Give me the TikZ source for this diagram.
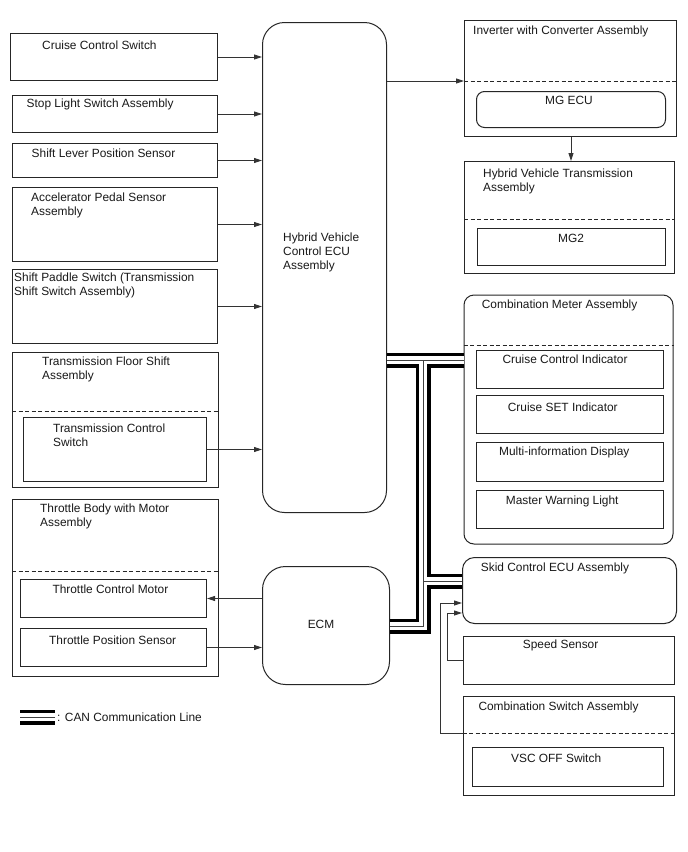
\documentclass[tikz,border=0pt]{standalone}
\usepackage{fontspec}
\setmainfont{Liberation Sans}
\usetikzlibrary{arrows.meta}
\begin{document}
\begin{tikzpicture}[x=1pt,y=-1pt,
  box/.style={draw=black!85, line width=1pt, inner sep=0pt, anchor=north west, fill=none},
  rbox/.style={box, rounded corners=#1},
  lbl/.style={anchor=base west, inner sep=0pt, align=left, text=black!90,
    font=\fontsize{11.9pt}{14pt}\selectfont},
  clbl/.style={lbl, anchor=base},
  arr/.style={draw=black!80, line width=0.9pt, -{Triangle[length=8pt,width=5pt]}},
  dsh/.style={draw=black!85, line width=1pt, dash pattern=on 4pt off 2.5pt},
  canA/.style={draw=black, line width=15pt, line join=miter},
  canB/.style={draw=white, line width=8pt, line join=miter},
  canC/.style={draw=black!75, line width=1pt, line join=miter},
]
\fill[white] (0,0) rectangle (688,852);
\useasboundingbox (0,0) rectangle (688,852);

% ---------- left column ----------
\node[box, minimum width=207pt, minimum height=47pt] (cruise) at (10,33) {};
\node[lbl] (cruiseT) at (42,49) {Cruise Control Switch};
\node[box, minimum width=205pt, minimum height=37pt] (stop) at (12,95) {};
\node[lbl] (stopT) at (26.5,107) {Stop Light Switch Assembly};
\node[box, minimum width=205pt, minimum height=34pt] (slever) at (12,143) {};
\node[lbl] (sleverT) at (31.5,157) {Shift Lever Position Sensor};
\node[box, minimum width=205pt, minimum height=74pt] (accel) at (12,187) {};
\node[lbl] (accelT) at (31,215) {Accelerator Pedal Sensor\\Assembly};
\node[box, minimum width=205pt, minimum height=74pt] (paddle) at (12,269) {};
\node[lbl] (paddleT) at (14,295.5) {Shift Paddle Switch (Transmission\\Shift Switch Assembly)};
\node[box, minimum width=206pt, minimum height=135pt] (tfs) at (12,352) {};
\node[lbl] (tfsT) at (42,379.3) {Transmission Floor Shift\\Assembly};
\draw[dsh] (tfs.west |- 0,411) -- (tfs.east |- 0,411);
\node[box, minimum width=183pt, minimum height=64pt] (tcs) at (23,417) {};
\node[lbl] (tcsT) at (53,446) {Transmission Control\\Switch};
\node[box, minimum width=205.5pt, minimum height=177pt] (tb) at (12,498.5) {};
\node[lbl] (tbT) at (40,526.6) {Throttle Body with Motor\\Assembly};
\draw[dsh] (tb.west |- 0,571) -- (tb.east |- 0,571);
\node[box, minimum width=186pt, minimum height=38pt] (tcm) at (20,579) {};
\node[lbl] (tcmT) at (52.3,593.6) {Throttle Control Motor};
\node[box, minimum width=186pt, minimum height=38pt] (tps) at (20,628) {};
\node[lbl] (tpsT) at (49,644.3) {Throttle Position Sensor};

% ---------- middle ----------
\node[rbox=22pt, minimum width=124pt, minimum height=490pt] (hv) at (262,22) {};
\node[lbl] (hvT) at (283,269) {Hybrid Vehicle\\Control ECU\\Assembly};
\node[rbox=23pt, minimum width=127pt, minimum height=118pt] (ecm) at (262,566) {};
\node[clbl] (ecmT) at (321,628.5) {ECM};

% ---------- right column ----------
\node[box, minimum width=212pt, minimum height=116pt] (inv) at (464,20) {};
\node[lbl] (invT) at (473,34.5) {Inverter with Converter Assembly};
\draw[dsh] (inv.west |- 0,81) -- (inv.east |- 0,81);
\node[rbox=8pt, minimum width=189pt, minimum height=36pt] (mgecu) at (476,91) {};
\node[clbl] (mgecuT) at (569,104.5) {MG ECU};
\node[box, minimum width=210pt, minimum height=112pt] (hvta) at (464,161) {};
\node[lbl] (hvtaT) at (483,191) {Hybrid Vehicle Transmission\\Assembly};
\draw[dsh] (hvta.west |- 0,219) -- (hvta.east |- 0,219);
\node[box, minimum width=188pt, minimum height=37pt] (mg2) at (477,228) {};
\node[clbl] (mg2T) at (571,242) {MG2};

\node[rbox=10pt, minimum width=209pt, minimum height=249pt] (cm) at (463.5,294.5) {};
\node[lbl] (cmT) at (481.7,308.6) {Combination Meter Assembly};
\draw[dsh] (cm.west |- 0,345) -- (cm.east |- 0,345);
\node[box, minimum width=187pt, minimum height=38pt] (ind1) at (476,349.5) {};
\node[lbl] (ind1T) at (502.3,363.6) {Cruise Control Indicator};
\node[box, minimum width=187pt, minimum height=38pt] (ind2) at (476,394.5) {};
\node[lbl] (ind2T) at (507.7,411.3) {Cruise SET Indicator};
\node[box, minimum width=187pt, minimum height=38.5pt] (ind3) at (476,442) {};
\node[lbl] (ind3T) at (499,455.3) {Multi-information Display};
\node[box, minimum width=187pt, minimum height=38pt] (ind4) at (476,490) {};
\node[lbl] (ind4T) at (505.7,504.3) {Master Warning Light};

\node[rbox=12pt, minimum width=214pt, minimum height=66pt] (skid) at (462,557) {};
\node[lbl] (skidT) at (480.7,571.3) {Skid Control ECU Assembly};
\node[box, minimum width=211.5pt, minimum height=48.5pt] (speed) at (462.5,635.5) {};
\node[lbl] (speedT) at (522.7,648) {Speed Sensor};
\node[box, minimum width=211.5pt, minimum height=99pt] (cs) at (462.5,696) {};
\node[lbl] (csT) at (478.3,710.3) {Combination Switch Assembly};
\draw[dsh] (cs.west |- 0,733) -- (cs.east |- 0,733);
\node[box, minimum width=191pt, minimum height=39.5pt] (vsc) at (472,746.5) {};
\node[lbl] (vscT) at (511,762) {VSC OFF Switch};

% ---------- arrows ----------
\draw[arr] (cruise.east) -- (cruise.east -| hv.west);
\draw[arr] (stop.east) -- (stop.east -| hv.west);
\draw[arr] (slever.east) -- (slever.east -| hv.west);
\draw[arr] (accel.east) -- (accel.east -| hv.west);
\draw[arr] (paddle.east) -- (paddle.east -| hv.west);
\draw[arr] (tcs.east) -- (tcs.east -| hv.west);
\draw[arr] (hv.east |- 0,81) -- (inv.west |- 0,81);
\draw[arr] (inv.south -| mgecu.south) -- (hvta.north -| mgecu.south);
\draw[arr] (ecm.west |- tcm.east) -- (tcm.east);
\draw[arr] (tps.east) -- (tps.east -| ecm.west);
\draw[arr] (speed.west) -- ++(-15,0) |- (skid.west |- 0,613);
\draw[arr] (cs.west |- 0,733) -- ++(-22,0) |- (skid.west |- 0,603);

% ---------- CAN lines ----------
\coordinate (j1) at (423,360);
\coordinate (j2) at (423,626);
\coordinate (j3) at (423,581);
\coordinate (lg1) at (20,717);
\coordinate (lg2) at (55,717);
\foreach \s in {canA,canB,canC}{
  \draw[\s] (hv.east |- j1) -- (cm.west |- j1);
  \draw[\s] (j1) -- (j2) -- (ecm.east |- j2);
  \draw[\s] (j3) -- (skid.west |- j3);
  \draw[\s] (lg1) -- (lg2);
}
\node[lbl] (lgT) at (57,721) {: CAN Communication Line};
\end{tikzpicture}
\end{document}
